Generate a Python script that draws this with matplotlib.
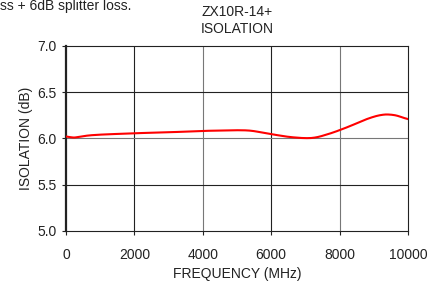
import numpy as np
import matplotlib
matplotlib.use("Agg")
from matplotlib import pyplot as plt

plt.rcParams['font.family'] = ['Liberation Sans', 'DejaVu Sans']

# isolation curve
freq = [10, 100, 300, 600, 1000, 2000, 3000, 4000, 5000, 5400, 6000, 6500, 7000, 7300, 7800, 8300, 8800, 9200, 9500, 9800, 10000]
isolation = [6.03, 6.00, 6.01, 6.03, 6.04, 6.055, 6.065, 6.08, 6.088, 6.085, 6.045, 6.015, 6.0, 6.005, 6.06, 6.13, 6.21, 6.255, 6.26, 6.235, 6.20]

xticks = [0, 2000, 4000, 6000, 8000, 10000]
yticks = [5.0, 5.5, 6.0, 6.5, 7.0]

fig = plt.figure(figsize=(4.4, 2.82), dpi=100)
ax = fig.add_axes([0.15, 0.181, 0.777, 0.657])

# smooth curve through read points
xs = np.linspace(freq[0], freq[-1], 400)
ys = np.interp(xs, freq, isolation)
k = np.ones(15) / 15
ys_s = np.convolve(np.pad(ys, 7, mode='edge'), k, mode='valid')
ax.plot(xs, ys_s, color='#ff0000', lw=1.5, zorder=3)

for i, x in enumerate(xticks[1:-1]):
    ax.axvline(x, color='#222222' if i % 2 == 0 else '#777777', lw=0.8, zorder=1)
for y in [5.5, 6.0, 6.5]:
    ax.axhline(y, color='#777777' if y == 6.0 else '#222222', lw=0.8, zorder=1)

ax.set_xlim(0, 10000)
ax.set_ylim(5.0, 7.0)
ax.set_xticks(xticks)
ax.set_yticks(yticks)
ax.set_yticklabels(['%.1f' % v for v in yticks])
ax.tick_params(labelsize=10, length=3, width=0.8, color='#222222', labelcolor='#222222')
ax.tick_params(axis='x', pad=9)
ax.tick_params(axis='y', pad=4)
for s in ax.spines.values():
    s.set_linewidth(0.8)
    s.set_color('#222222')
ax.spines['left'].set_linewidth(1.6)

ax.set_xlabel('FREQUENCY (MHz)', fontsize=10, color='#222222', labelpad=4)
ax.set_ylabel('ISOLATION (dB)', fontsize=10, color='#222222', labelpad=3)
ax.set_title('ZX10R-14+\nISOLATION', fontsize=10, color='#222222', pad=9, linespacing=1.3)

fig.text(131 / 440, 1 - 6 / 282, 'ss + 6dB splitter loss.', ha='right', va='center',
         fontsize=10, color='#222222')

fig.savefig('out.png', dpi=100)
